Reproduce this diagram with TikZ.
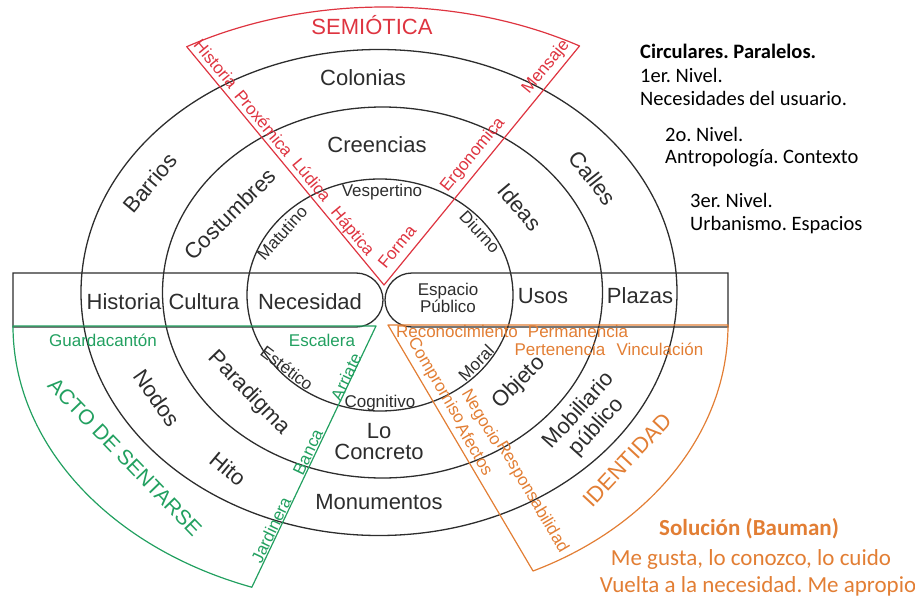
\documentclass[tikz,border=0pt]{standalone}
\usepackage{fontspec}
\setmainfont{Liberation Sans}
\newfontfamily\notefont{Carlito}
\usetikzlibrary{calc}
\frenchspacing
\definecolor{inkline}{RGB}{45,45,45}
\definecolor{semred}{RGB}{222,52,64}
\definecolor{actgreen}{RGB}{34,160,96}
\definecolor{idorange}{RGB}{226,126,52}
\tikzstyle{ring}=[draw=inkline, line width=1.3pt]
\tikzstyle{semline}=[draw=semred, line width=1.2pt, line join=round]
\tikzstyle{actline}=[draw=actgreen, line width=1.2pt, line join=round]
\tikzstyle{idline}=[draw=idorange, line width=1.2pt, line join=round]
\tikzstyle{lbl}=[text=inkline, inner sep=0pt, align=center,
                 font=\fontsize{22}{23}\selectfont]
\tikzstyle{sublbl}=[text=inkline, inner sep=0pt, align=center,
                    font=\fontsize{17}{17}\selectfont]
\tikzstyle{semtxt}=[text=semred, inner sep=0pt, font=\fontsize{17}{17}\selectfont]
\tikzstyle{acttxt}=[text=actgreen, inner sep=0pt, font=\fontsize{17}{17}\selectfont]
\tikzstyle{idtxt}=[text=idorange, inner sep=0pt, font=\fontsize{17}{17}\selectfont]
\tikzstyle{notetxt}=[anchor=base west, inner sep=0pt,
                     font=\notefont\fontsize{20.5}{23}\selectfont]
\tikzstyle{solutxt}=[anchor=base, inner sep=0pt, text=idorange,
                     font=\notefont\fontsize{23}{28}\selectfont]

\begin{document}
\begin{tikzpicture}[x=1pt,y=1pt]
    \useasboundingbox (0,0) rectangle (915,-599);

    % anillos
    \draw[ring] (379,-292.5) ellipse [x radius=298pt, y radius=243pt];
    \draw[ring] (382.5,-292.5) ellipse [x radius=220pt, y radius=185.5pt];
    \draw[ring] (380,-295) ellipse [x radius=133pt, y radius=116pt];

    % franja horizontal
    \draw[ring] (13,-273) -- (356,-273) arc[start angle=90, end angle=-90, radius=27pt] -- (13,-327) -- cycle;
    \draw[ring] (728,-273) -- (412,-273) arc[start angle=90, end angle=270, radius=27pt] -- (728,-327) -- cycle;

    % sectores
    \coordinate (semApex) at (384,-285);
    \coordinate (actApex) at (376,-326);
    \coordinate (idApex) at (388,-325);
    \draw[semline] (semApex) -- ++(59.3:383pt and 278pt)
        arc[start angle=59.3, end angle=121, x radius=383pt, y radius=278pt] -- cycle;
    \draw[actline] (actApex) -- ++(180:363pt and 278pt)
        arc[start angle=180, end angle=250, x radius=363pt, y radius=278pt] -- cycle;
    \draw[idline] (idApex) -- ++(0:340pt and 272pt)
        arc[start angle=0, end angle=-64.75, x radius=340pt, y radius=272pt] -- cycle;

    % niveles
    \node[lbl] (colonias) at (363,-78) {Colonias};
    \node[lbl] (creencias) at (377,-145) {Creencias};
    \node[lbl, rotate=50] (barrios) at (150,-183) {Barrios};
    \node[lbl, rotate=-52] (calles) at (593,-178) {Calles};
    \node[lbl, rotate=45] (costumbres) at (230,-214) {Costumbres};
    \node[lbl, rotate=-50] (ideas) at (520,-207) {Ideas};
    \node[lbl] (historia) at (124,-302) {Historia};
    \node[lbl] (cultura) at (204,-302) {Cultura};
    \node[lbl] (necesidad) at (310,-302) {Necesidad};
    \node[lbl] (usos) at (543,-296) {Usos};
    \node[lbl] (plazas) at (640,-296) {Plazas};
    \node[lbl, rotate=-55] (nodos) at (157,-398) {Nodos};
    \node[lbl, rotate=-46] (paradigma) at (249,-393) {Paradigma};
    \node[lbl, rotate=-40] (hito) at (228,-469) {Hito};
    \node[lbl, font=\fontsize{22}{21}\selectfont] (concreto) at (379,-442) {Lo\\Concreto};
    \node[lbl] (monumentos) at (379,-502) {Monumentos};
    \node[lbl, rotate=45] (objeto) at (519,-383) {Objeto};
    \node[lbl, font=\fontsize{22}{24}\selectfont, rotate=48] (mobiliario) at (588,-419) {Mobiliario\\público};

    \node[sublbl] (vespertino) at (382,-192) {Vespertino};
    \node[sublbl, rotate=48] (matutino) at (282,-233) {Matutino};
    \node[sublbl, rotate=-47] (diurno) at (480,-232) {Diurno};
    \node[sublbl] (espacio) at (448,-298) {Espacio\\Público};
    \node[sublbl, rotate=-37] (estetico) at (287,-368) {Estético};
    \node[sublbl] (cognitivo) at (380,-403) {Cognitivo};
    \node[sublbl, rotate=46] (moral) at (476,-363) {Moral};

    % semiotica
    \node[semtxt, font=\fontsize{22}{22}\selectfont] (semTitle) at (372,-25) {SEMIÓTICA};
    \node[semtxt, rotate=-50.3] (semHistoria) at (216,-64) {Historia};
    \node[semtxt, rotate=-50.3] (semProxemica) at (264,-123) {Proxémica};
    \node[semtxt, rotate=-50.3] (semLudica) at (312,-180) {Lúdica};
    \node[semtxt, rotate=-50.3] (semHaptica) at (352,-232) {Háptica};
    \node[semtxt, rotate=50.7] (semForma) at (397,-247) {Forma};
    \node[semtxt, rotate=50.7] (semErgonomica) at (473,-155) {Ergonomica};
    \node[semtxt, rotate=50.7] (semMensaje) at (546,-67) {Mensaje};

    % acto de sentarse
    \node[acttxt, font=\fontsize{21}{21}\selectfont, rotate=-46] (actTitle) at (125,-457) {ACTO DE SENTARSE};
    \node[acttxt] (actGuarda) at (103,-340) {Guardacantón};
    \node[acttxt] (actEscalera) at (322,-340) {Escalera};
    \node[acttxt, rotate=64.6] (actArriate) at (346,-377) {Arriate};
    \node[acttxt, rotate=64.6] (actBanca) at (308,-452) {Banca};
    \node[acttxt, rotate=64.6] (actJardinera) at (271,-530) {Jardinera};

    % identidad
    \node[idtxt, font=\fontsize{22}{22}\selectfont, rotate=47] (idTitle) at (627,-460) {IDENTIDAD};
    \node[idtxt] (idReconoc) at (457,-331.5) {Reconocimiento};
    \node[idtxt] (idPermanencia) at (578,-331.5) {Permanencia};
    \node[idtxt] (idPertenencia) at (560,-349) {Pertenencia};
    \node[idtxt] (idVinculacion) at (660,-349) {Vinculación};
    \node[idtxt, rotate=-59.5] (idCompromiso) at (436,-381) {Compromiso};
    \node[idtxt, rotate=-59.5] (idAfectos) at (475,-449) {Afectos};
    \node[idtxt, rotate=-59.5] (idNegocio) at (481,-418) {Negocio};
    \node[idtxt, rotate=-59.5] (idResponsab) at (532,-497) {Responsabilidad};

    % notas
    \node[notetxt] (notaCirc) at (640,-59) {\bfseries Circulares. Paralelos.};
    \node[notetxt] (notaNivelA) at (640,-82.5) {1er. Nivel.};
    \node[notetxt] (notaNecesidades) at (640,-106) {Necesidades del usuario.};
    \node[notetxt] (notaNivelB) at (665,-141) {2o. Nivel.};
    \node[notetxt] (notaAntro) at (665,-164) {Antropología. Contexto};
    \node[notetxt] (notaNivelC) at (690,-207.5) {3er. Nivel.};
    \node[notetxt] (notaUrban) at (690,-230.5) {Urbanismo. Espacios};

    \node[solutxt] (solTitle) at (749,-535) {\bfseries Solución (Bauman)};
    \node[solutxt] (solGusta) at (751,-565) {Me gusta, lo conozco, lo cuido};
    \node[solutxt] (solVuelta) at (758,-592) {Vuelta a la necesidad. Me apropio};
\end{tikzpicture}
\end{document}
